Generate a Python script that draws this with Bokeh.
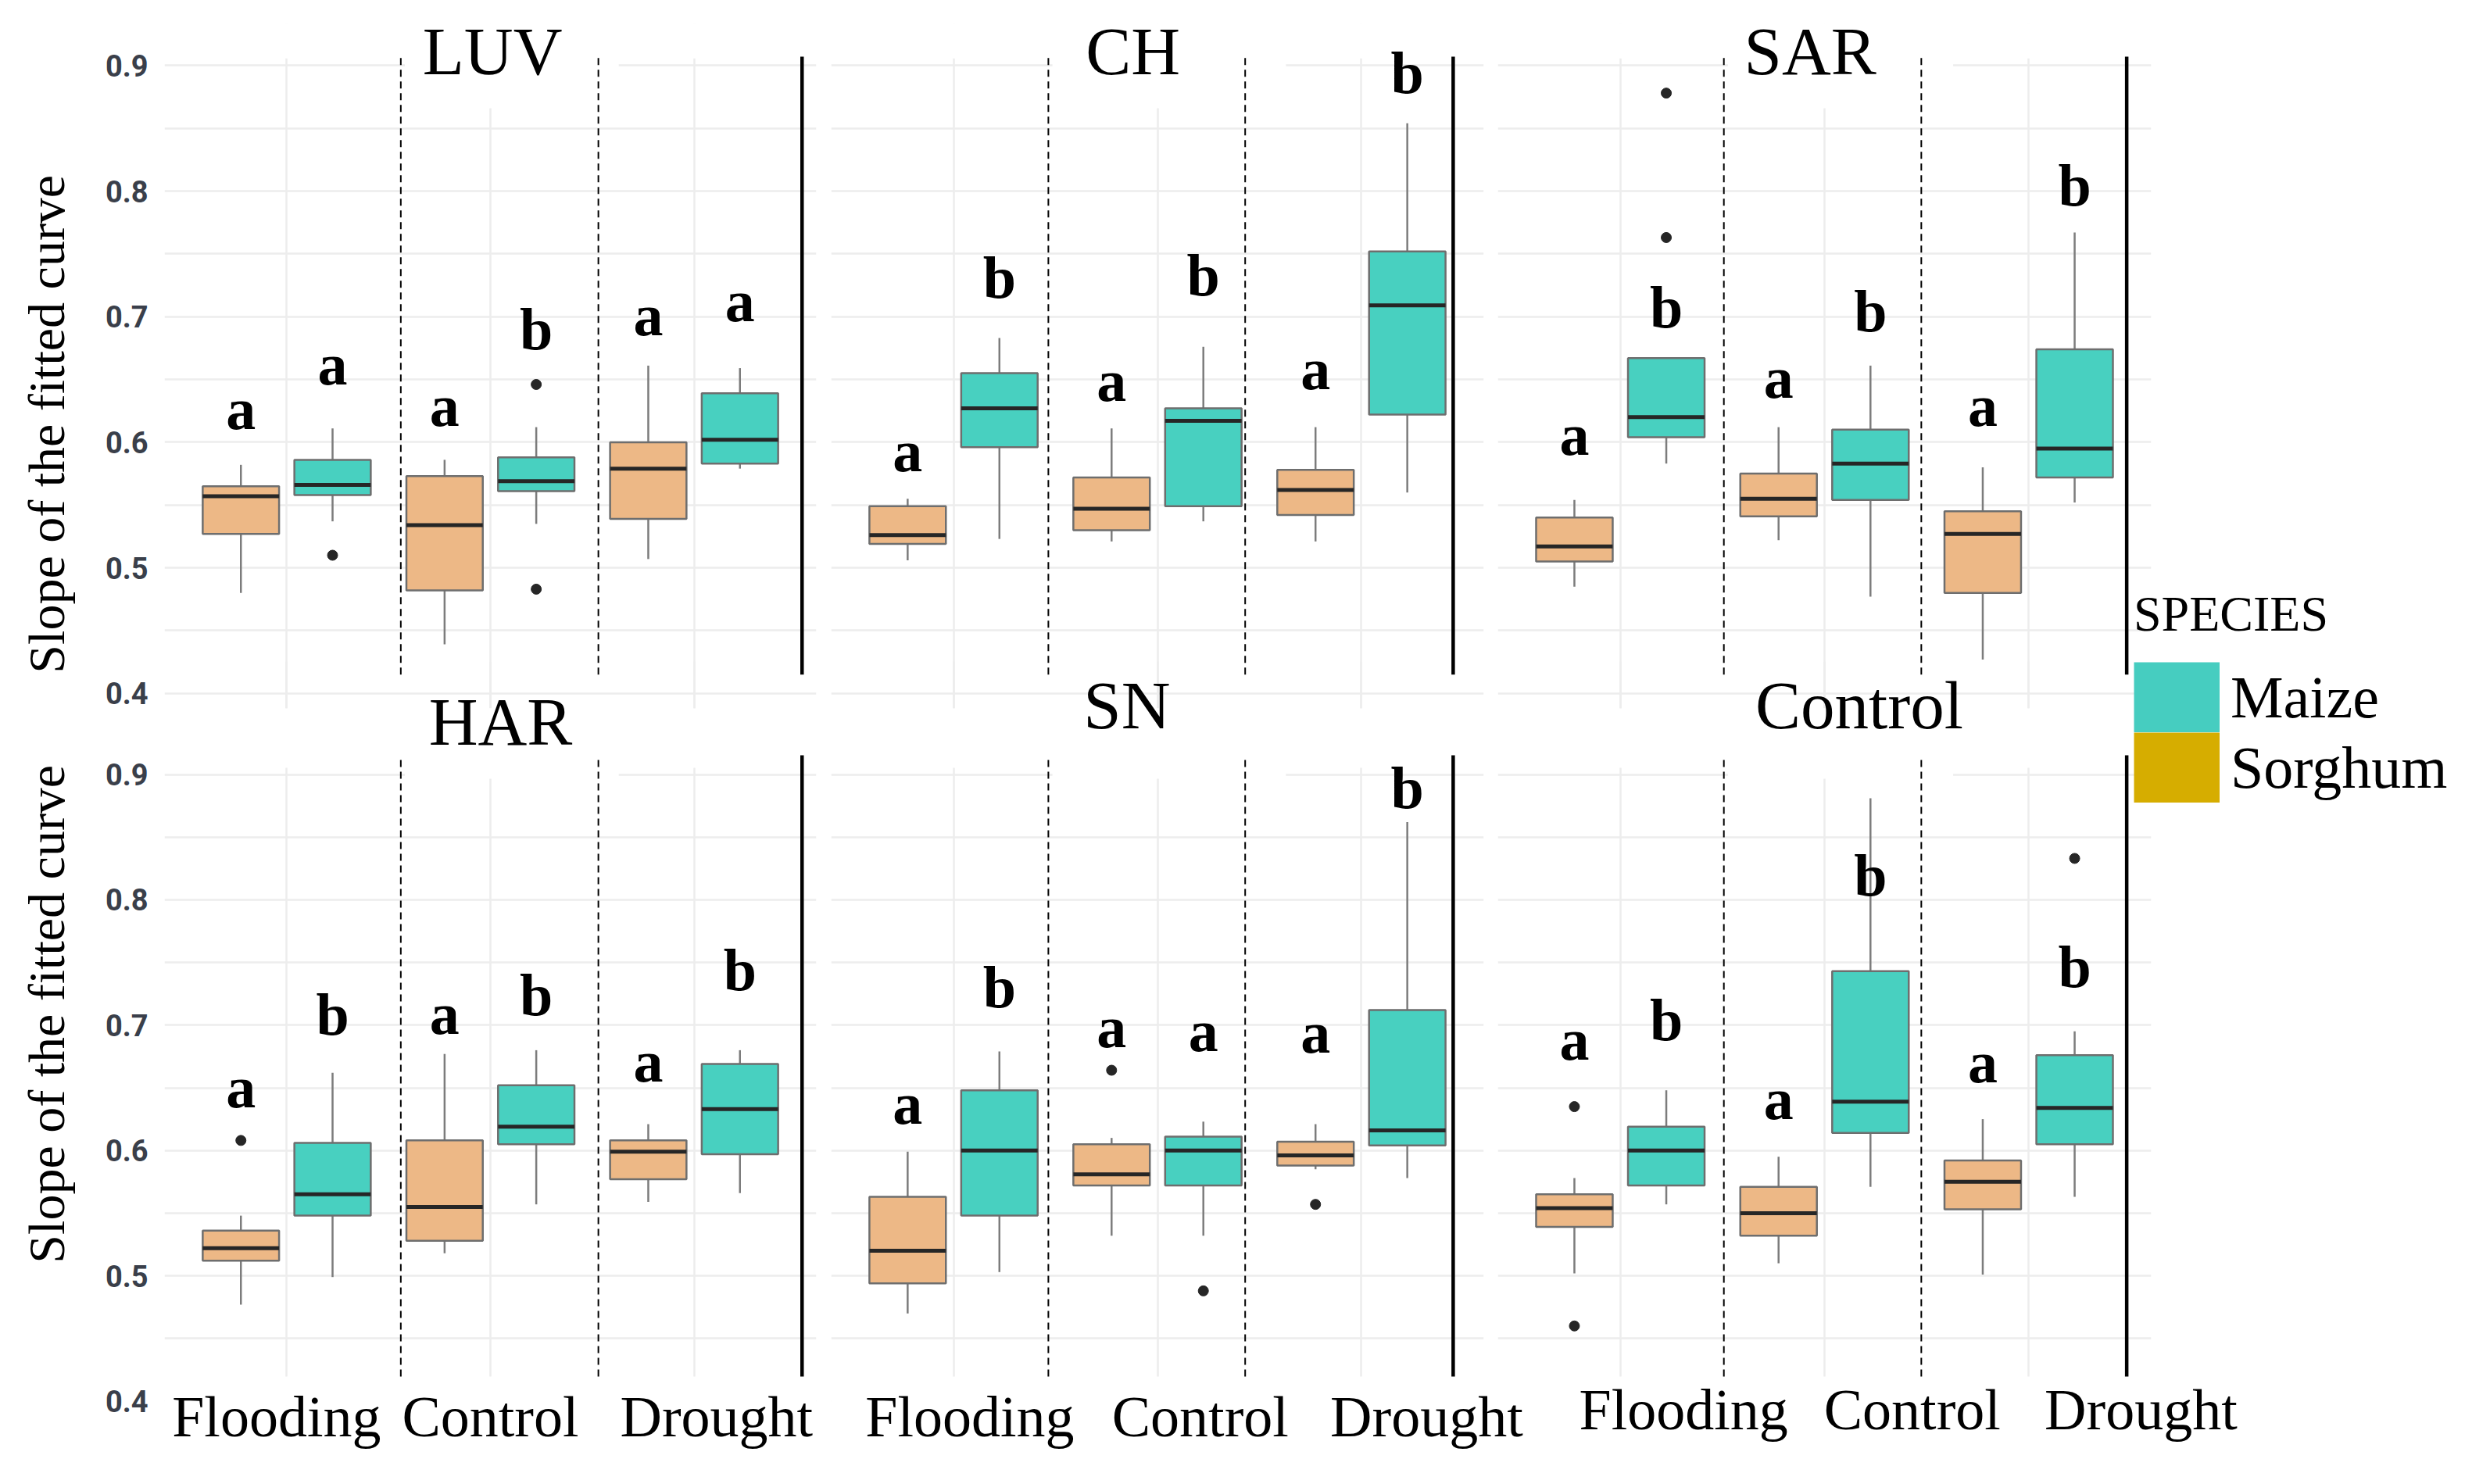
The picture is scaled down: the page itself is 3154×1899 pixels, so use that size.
from bokeh.plotting import figure
from bokeh.models import (ColumnDataSource, FixedTicker, Label, BoxAnnotation,
                          Legend, LegendItem, Range1d)
from bokeh.layouts import row, column
from bokeh.embed import file_html
from bokeh.resources import INLINE
from bokeh.core.properties import value

# ---------------- data ----------------
PANELS = ["LUV", "CH", "SAR", "HAR", "SN", "Control"]
TREATMENTS = ["Flooding", "Control", "Drought"]
SPECIES = ["Sorghum", "Maize"]
Y_TICKS = [0.4, 0.5, 0.6, 0.7, 0.8, 0.9]
Y_MINOR = [0.45, 0.55, 0.65, 0.75, 0.85]
Y_TITLE = "Slope of the fitted curve"

# one row per panel; values for Flooding, Control, Drought
sorghum_low = [[0.480, 0.439, 0.507], [0.506, 0.521, 0.521], [0.485, 0.522, 0.427],
               [0.477, 0.518, 0.559], [0.470, 0.532, 0.585], [0.502, 0.510, 0.501]]
sorghum_q1 = [[0.527, 0.482, 0.539], [0.519, 0.530, 0.542], [0.505, 0.541, 0.480],
              [0.512, 0.528, 0.577], [0.494, 0.572, 0.588], [0.539, 0.532, 0.553]]
sorghum_med = [[0.557, 0.534, 0.579], [0.526, 0.547, 0.562], [0.517, 0.555, 0.527],
               [0.522, 0.555, 0.599], [0.520, 0.581, 0.596], [0.554, 0.550, 0.575]]
sorghum_q3 = [[0.565, 0.573, 0.600], [0.549, 0.572, 0.578], [0.540, 0.575, 0.545],
              [0.536, 0.608, 0.608], [0.563, 0.605, 0.607], [0.565, 0.571, 0.592]]
sorghum_high = [[0.582, 0.586, 0.661], [0.555, 0.611, 0.612], [0.554, 0.612, 0.580],
                [0.548, 0.677, 0.621], [0.599, 0.610, 0.621], [0.578, 0.595, 0.625]]
sorghum_out = [[[], [], []], [[], [], []], [[], [], []],
               [[0.608], [], []], [[], [0.664], [0.557]], [[0.635, 0.460], [], []]]

maize_low = [[0.537, 0.535, 0.579], [0.523, 0.537, 0.560], [0.583, 0.477, 0.552],
             [0.499, 0.557, 0.566], [0.503, 0.532, 0.578], [0.557, 0.571, 0.563]]
maize_q1 = [[0.558, 0.561, 0.583], [0.596, 0.549, 0.622], [0.604, 0.554, 0.572],
            [0.548, 0.605, 0.597], [0.548, 0.572, 0.604], [0.572, 0.614, 0.605]]
maize_med = [[0.566, 0.569, 0.602], [0.627, 0.617, 0.709], [0.620, 0.583, 0.595],
             [0.565, 0.619, 0.633], [0.600, 0.600, 0.616], [0.600, 0.639, 0.634]]
maize_q3 = [[0.586, 0.588, 0.639], [0.655, 0.627, 0.752], [0.667, 0.610, 0.674],
            [0.606, 0.652, 0.669], [0.648, 0.611, 0.712], [0.619, 0.743, 0.676]]
maize_high = [[0.611, 0.612, 0.659], [0.683, 0.676, 0.854], [0.667, 0.661, 0.767],
              [0.662, 0.680, 0.680], [0.679, 0.623, 0.862], [0.648, 0.881, 0.695]]
maize_out = [[[0.510], [0.646, 0.483], []], [[], [], []], [[0.878, 0.763], [], []],
             [[], [], []], [[], [0.488], []], [[], [], [0.833]]]

sorghum_letters = [["a", "a", "a"]] * 6
maize_letters = [["a", "b", "a"], ["b", "b", "b"], ["b", "b", "b"],
                 ["b", "b", "b"], ["b", "a", "b"], ["b", "b", "b"]]
sorghum_letter_y = [[0.609, 0.612, 0.684], [0.576, 0.632, 0.641], [0.589, 0.634, 0.612],
                    [0.633, 0.692, 0.654], [0.620, 0.681, 0.677], [0.671, 0.624, 0.653]]
maize_letter_y = [[0.645, 0.673, 0.695], [0.714, 0.716, 0.877], [0.690, 0.687, 0.787],
                  [0.691, 0.707, 0.727], [0.713, 0.678, 0.872], [0.687, 0.802, 0.729]]

# ---------------- style / layout ----------------
FILL = {"Sorghum": "#EDB886", "Maize": "#48D0C0"}
LEGEND_FILL = {"Maize": "#46CDC0", "Sorghum": "#D6AD00"}
DODGE = {"Sorghum": -0.225, "Maize": 0.225}
BOX_W = 0.375
GRID = "#EDEDED"
BOX_LINE = "#6E6E6E"
WHISKER = "#7C7C7C"
MEDIAN = "#262626"
TICK_COLOR = "#3A3F4A"
SERIF = "Liberation Serif"
NBSP = "\u00a0"

X_RANGE = (0.4, 3.6)
Y_RANGES = [(0.38805, 0.93317), (0.39657, 0.99009)]
PANEL_TOP = [0.9056, 0.9053]          # upper edge of the plotted panel
GAP_TOP = [1.5, 0.9527]               # white band above the panel
PANEL_BOTTOM = [None, 0.4196]         # lower edge (bottom row is cut off)
FRAME_W = [834, 835, 836]
FRAME_H = [876, 952]
BORDER_L = [210, 19, 18]
BORDER_R = [60, 100, 140]
SHIFT = [0, -60, -100]
BORDER_T = [30, 0]
BORDER_B = [12, 93]
ROW_SHIFT = [0, -72]
YLABEL_PAD = [(0, 9), (3, 0)]         # (leading, trailing) padding of the y title
SEP_DASH = [[1.56, 2.53], [1.465, 2.43], [1.507, 2.474]]
SEP_SOLID = [3.53, 3.45, 3.48]
LINE_Y = [(0.415, 0.907), (0.4196, 0.9153)]
TITLE_BOX_BOTTOM = [0.866, 0.8966]
TITLE_X = [2.01, 1.88, 1.93, 2.05, 1.85, 2.17]
TITLE_Y = [0.889, 0.889, 0.889, 0.9196, 0.9327, 0.9327]   # baselines
TITLE_DY = 0.0224      # renderer baseline correction (87px text)
LETTER_DY = 0.0174     # renderer baseline correction (76px text)
XLABEL_SHIFT = [[-0.05, 0.0, 0.11], [0.08, 0.21, 0.32], [0.31, 0.43, 0.55]]
XLABEL_STANDOFF = [-27, -27, -36]

STATS = {
    "Sorghum": (sorghum_low, sorghum_q1, sorghum_med, sorghum_q3, sorghum_high,
                sorghum_out, sorghum_letters, sorghum_letter_y),
    "Maize": (maize_low, maize_q1, maize_med, maize_q3, maize_high,
              maize_out, maize_letters, maize_letter_y),
}


def white_box(p, bottom, top, left=None, right=None):
    p.add_layout(BoxAnnotation(
        left=X_RANGE[0] - 1 if left is None else left,
        right=X_RANGE[1] + 1 if right is None else right,
        bottom=bottom, top=top, fill_color="white", fill_alpha=1.0,
        line_color=None, level="underlay"))


figs = []
for i, name in enumerate(PANELS):
    r, c = divmod(i, 3)
    p = figure(x_range=Range1d(*X_RANGE), y_range=Range1d(*Y_RANGES[r]),
               frame_width=FRAME_W[c], frame_height=FRAME_H[r],
               min_border_left=BORDER_L[c], min_border_right=BORDER_R[c],
               min_border_top=BORDER_T[r], min_border_bottom=BORDER_B[r],
               x_axis_location="below" if r == 1 else None,
               y_axis_location="left" if c == 0 else None,
               output_backend="svg", toolbar_location=None,
               background_fill_alpha=0, border_fill_alpha=0,
               outline_line_color=None)
    if SHIFT[c] or ROW_SHIFT[r]:
        p.margin = (ROW_SHIFT[r], 0, 0, SHIFT[c])

    # grid
    p.xgrid.ticker = FixedTicker(ticks=[1, 2, 3])
    p.ygrid.ticker = FixedTicker(ticks=Y_TICKS, minor_ticks=Y_MINOR)
    for g in (p.xgrid[0], p.ygrid[0]):
        g.grid_line_color = GRID
        g.grid_line_width = 2.5
    p.ygrid.minor_grid_line_color = GRID
    p.ygrid.minor_grid_line_width = 2.5

    # blank space around the panel and behind its title
    white_box(p, PANEL_TOP[r], GAP_TOP[r])
    if PANEL_BOTTOM[r] is not None:
        white_box(p, Y_RANGES[r][0] - 1, PANEL_BOTTOM[r])
    white_box(p, TITLE_BOX_BOTTOM[r], GAP_TOP[r], SEP_DASH[c][0] + 0.02, 2.63)

    # separators
    y0, y1 = LINE_Y[r]
    p.segment(x0=SEP_DASH[c], x1=SEP_DASH[c], y0=[y0, y0], y1=[y1, y1],
              line_color="black", line_width=2, line_dash="9 6")
    p.segment(x0=[SEP_SOLID[c]], x1=[SEP_SOLID[c]], y0=[y0], y1=[y1],
              line_color="black", line_width=4.5)

    # boxes
    for sp in SPECIES:
        lo, q1, med, q3, hi, out, let, ly = STATS[sp]
        xs = [t + 1 + DODGE[sp] for t in range(3)]
        src = ColumnDataSource(dict(
            x=xs, xl=[x - BOX_W / 2 for x in xs], xr=[x + BOX_W / 2 for x in xs],
            lo=lo[i], q1=q1[i], med=med[i], q3=q3[i], hi=hi[i],
            letter=let[i], ly=[v + LETTER_DY for v in ly[i]]))
        p.segment(x0="x", x1="x", y0="q3", y1="hi", source=src,
                  line_color=WHISKER, line_width=2.5)
        p.segment(x0="x", x1="x", y0="q1", y1="lo", source=src,
                  line_color=WHISKER, line_width=2.5)
        p.vbar(x="x", width=BOX_W, bottom="q1", top="q3", source=src,
               fill_color=FILL[sp], line_color=BOX_LINE, line_width=2.5)
        p.segment(x0="xl", x1="xr", y0="med", y1="med", source=src,
                  line_color=MEDIAN, line_width=5)
        ox, oy = [], []
        for t in range(3):
            for v in out[i][t]:
                ox.append(xs[t])
                oy.append(v)
        if ox:
            p.scatter(x=ox, y=oy, size=13, color=MEDIAN, marker="circle")
        p.text(x="x", y="ly", text="letter", source=src,
               text_font=value(SERIF), text_font_style="bold",
               text_font_size="76px", text_align="center",
               text_baseline="alphabetic", text_color="black")

    # panel title
    p.add_layout(Label(x=TITLE_X[i], y=TITLE_Y[i] + TITLE_DY, text=name,
                       text_font=SERIF, text_font_size="87px",
                       text_align="center", text_baseline="alphabetic",
                       text_color="black"))

    # axes
    if c == 0:
        ax = p.yaxis[0]
        ax.ticker = FixedTicker(ticks=Y_TICKS, minor_ticks=Y_MINOR)
        ax.axis_line_color = None
        ax.major_tick_line_color = None
        ax.minor_tick_line_color = None
        ax.major_tick_out = 0
        ax.major_label_standoff = 17
        ax.major_label_text_font = "Roboto"
        ax.major_label_text_font_style = "bold"
        ax.major_label_text_font_size = "38px"
        ax.major_label_text_color = TICK_COLOR
        lead, trail = YLABEL_PAD[r]
        ax.axis_label = NBSP * lead + Y_TITLE + NBSP * trail
        ax.axis_label_text_font = SERIF
        ax.axis_label_text_font_style = "normal"
        ax.axis_label_text_font_size = "66px"
        ax.axis_label_text_color = "black"
        ax.axis_label_standoff = 36
    if r == 1:
        ax = p.xaxis[0]
        ticks = [round(t + 1 + XLABEL_SHIFT[c][t], 3) for t in range(3)]
        ax.ticker = FixedTicker(ticks=ticks)
        ax.major_label_overrides = {tk: TREATMENTS[t] for t, tk in enumerate(ticks)}
        ax.axis_line_color = None
        ax.major_tick_line_color = None
        ax.minor_tick_line_color = None
        ax.major_tick_out = 0
        ax.major_label_standoff = XLABEL_STANDOFF[c]
        ax.major_label_text_font = SERIF
        ax.major_label_text_font_size = "74px"
        ax.major_label_text_color = "black"
    figs.append(p)

# legend
LEG_H = 1891
leg = figure(width=438, height=LEG_H, x_range=Range1d(0, 1), y_range=Range1d(0, 1),
             min_border=0, x_axis_location=None, y_axis_location=None,
             toolbar_location=None, output_backend="svg",
             background_fill_alpha=0, border_fill_alpha=0, outline_line_color=None)
leg.grid.visible = False
leg.margin = (0, 0, 0, -192)
items = []
for sp in ["Maize", "Sorghum"]:
    rr = leg.line(x=[5, 6], y=[5, 5], line_color=LEGEND_FILL[sp],
                  line_width=90, line_cap="butt")
    items.append(LegendItem(label=sp, renderers=[rr]))
legend = Legend(items=items, title="SPECIES", location=(30, LEG_H - 1027),
                orientation="vertical", glyph_width=110, glyph_height=90,
                label_height=90, spacing=0, label_standoff=14, padding=0,
                margin=0, border_line_color=None, background_fill_alpha=0,
                label_text_font=SERIF, label_text_font_size="76px",
                label_text_color="black",
                title_text_font=SERIF, title_text_font_size="64px",
                title_text_font_style="normal", title_text_color="black",
                title_standoff=24)
leg.add_layout(legend)

layout = row(column(row(*figs[:3]), row(*figs[3:])), leg)
open("out.html", "w").write(file_html(layout, INLINE))
